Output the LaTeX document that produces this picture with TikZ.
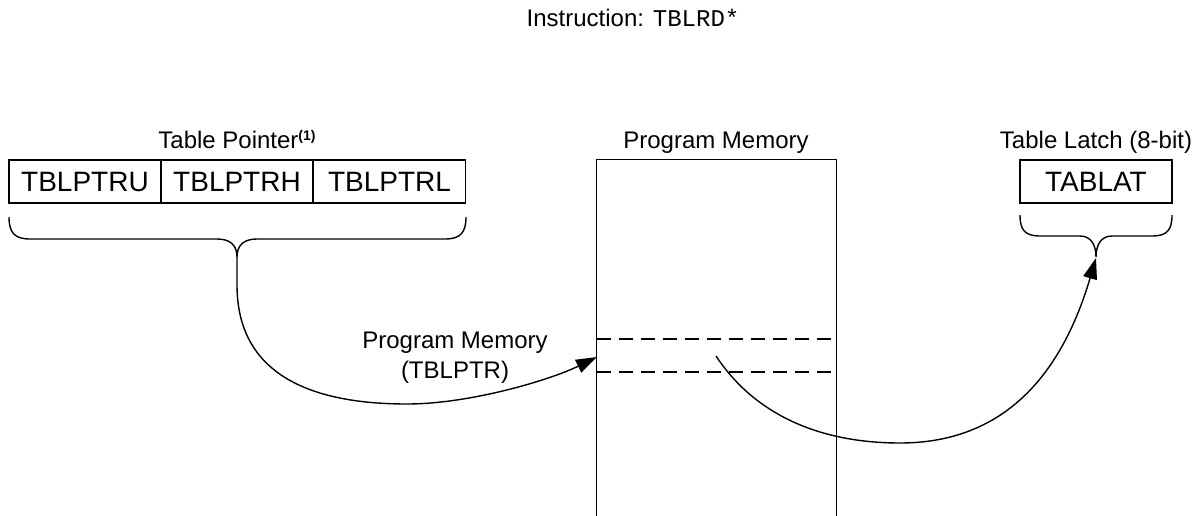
\documentclass[tikz,border=0pt]{standalone}
\usepackage{fontspec}
\setmainfont{Liberation Sans}
\setmonofont{Liberation Mono}
\usetikzlibrary{arrows.meta}
\begin{document}
\begin{tikzpicture}[x=1pt,y=-1pt,
  line width=1.4pt,
  lbl/.style={anchor=base, inner sep=0pt, font=\fontsize{24}{28}\selectfont},
  cell/.style={draw, rectangle, inner sep=0pt, minimum height=43pt, minimum width=152pt, text height=20pt, text depth=0pt, font=\fontsize{28}{32}\selectfont},
  conn/.style={-{Triangle[length=21pt,width=14pt]}},
  sep/.style={dash pattern=on 14pt off 8pt}]
\useasboundingbox (0,0) rectangle (1204,516);

% title
\node[lbl] (instr) at (633,27) {Instruction: \texttt{TBLRD*}};

% table pointer
\node[lbl] (tpl) at (237,149) {Table Pointer\raisebox{8pt}{\fontsize{14}{16}\selectfont\bfseries (1)}};
\node[cell] (tu) at (85,181.5) {TBLPTRU};
\node[cell] (th) at (237,181.5) {TBLPTRH};
\node[cell] (tl) at (389.5,181.5) {TBLPTRL};
\draw (9,217) .. controls (9,233) and (15,239) .. (30,239) -- (217,239)
  .. controls (230,239) and (237,245) .. (237,257)
  .. controls (237,245) and (244,239) .. (257,239) -- (445,239)
  .. controls (460,239) and (466,233) .. (466,217);
\coordinate (ptrtip) at (237,257);

% program memory
\node[lbl] (pml) at (716,149) {Program Memory};
\node[rectangle, inner sep=0pt, minimum width=239pt, minimum height=356pt] (pm) at (716.5,338) {};
\draw (pm.south west) -- (pm.north west) -- (pm.north east) -- (pm.south east);
\draw[sep] (597,339) -- (836,339);
\draw[sep] (597,372) -- (836,372);
\coordinate (rowin) at (597,357);
\coordinate (rowsrc) at (716,356);

% table latch
\node[lbl] (tll) at (1096,149) {Table Latch (8-bit)};
\node[cell] (tablat) at (1096,181.5) {TABLAT};
\draw (1020,215) .. controls (1020,230) and (1025,236) .. (1040,236) -- (1080,236)
  .. controls (1091,236) and (1096,245) .. (1096,257)
  .. controls (1096,245) and (1101,236) .. (1112,236) -- (1152,236)
  .. controls (1167,236) and (1172,230) .. (1172,215);
\coordinate (lattip) at (1096,258);

% label on pointer connector
\node[lbl] (pma) at (455,348) {Program Memory};
\node[lbl] (pmb) at (455,378) {(TBLPTR)};

% connectors
\draw[conn] (ptrtip) -- (237,285) .. controls (237,380) and (320,404) .. (407,404)
  .. controls (470,404) and (550,380) .. (rowin);
\draw[conn] (rowsrc) .. controls (755,415) and (820,443) .. (900,443)
  .. controls (1000,443) and (1060,380) .. (lattip);
\end{tikzpicture}
\end{document}
